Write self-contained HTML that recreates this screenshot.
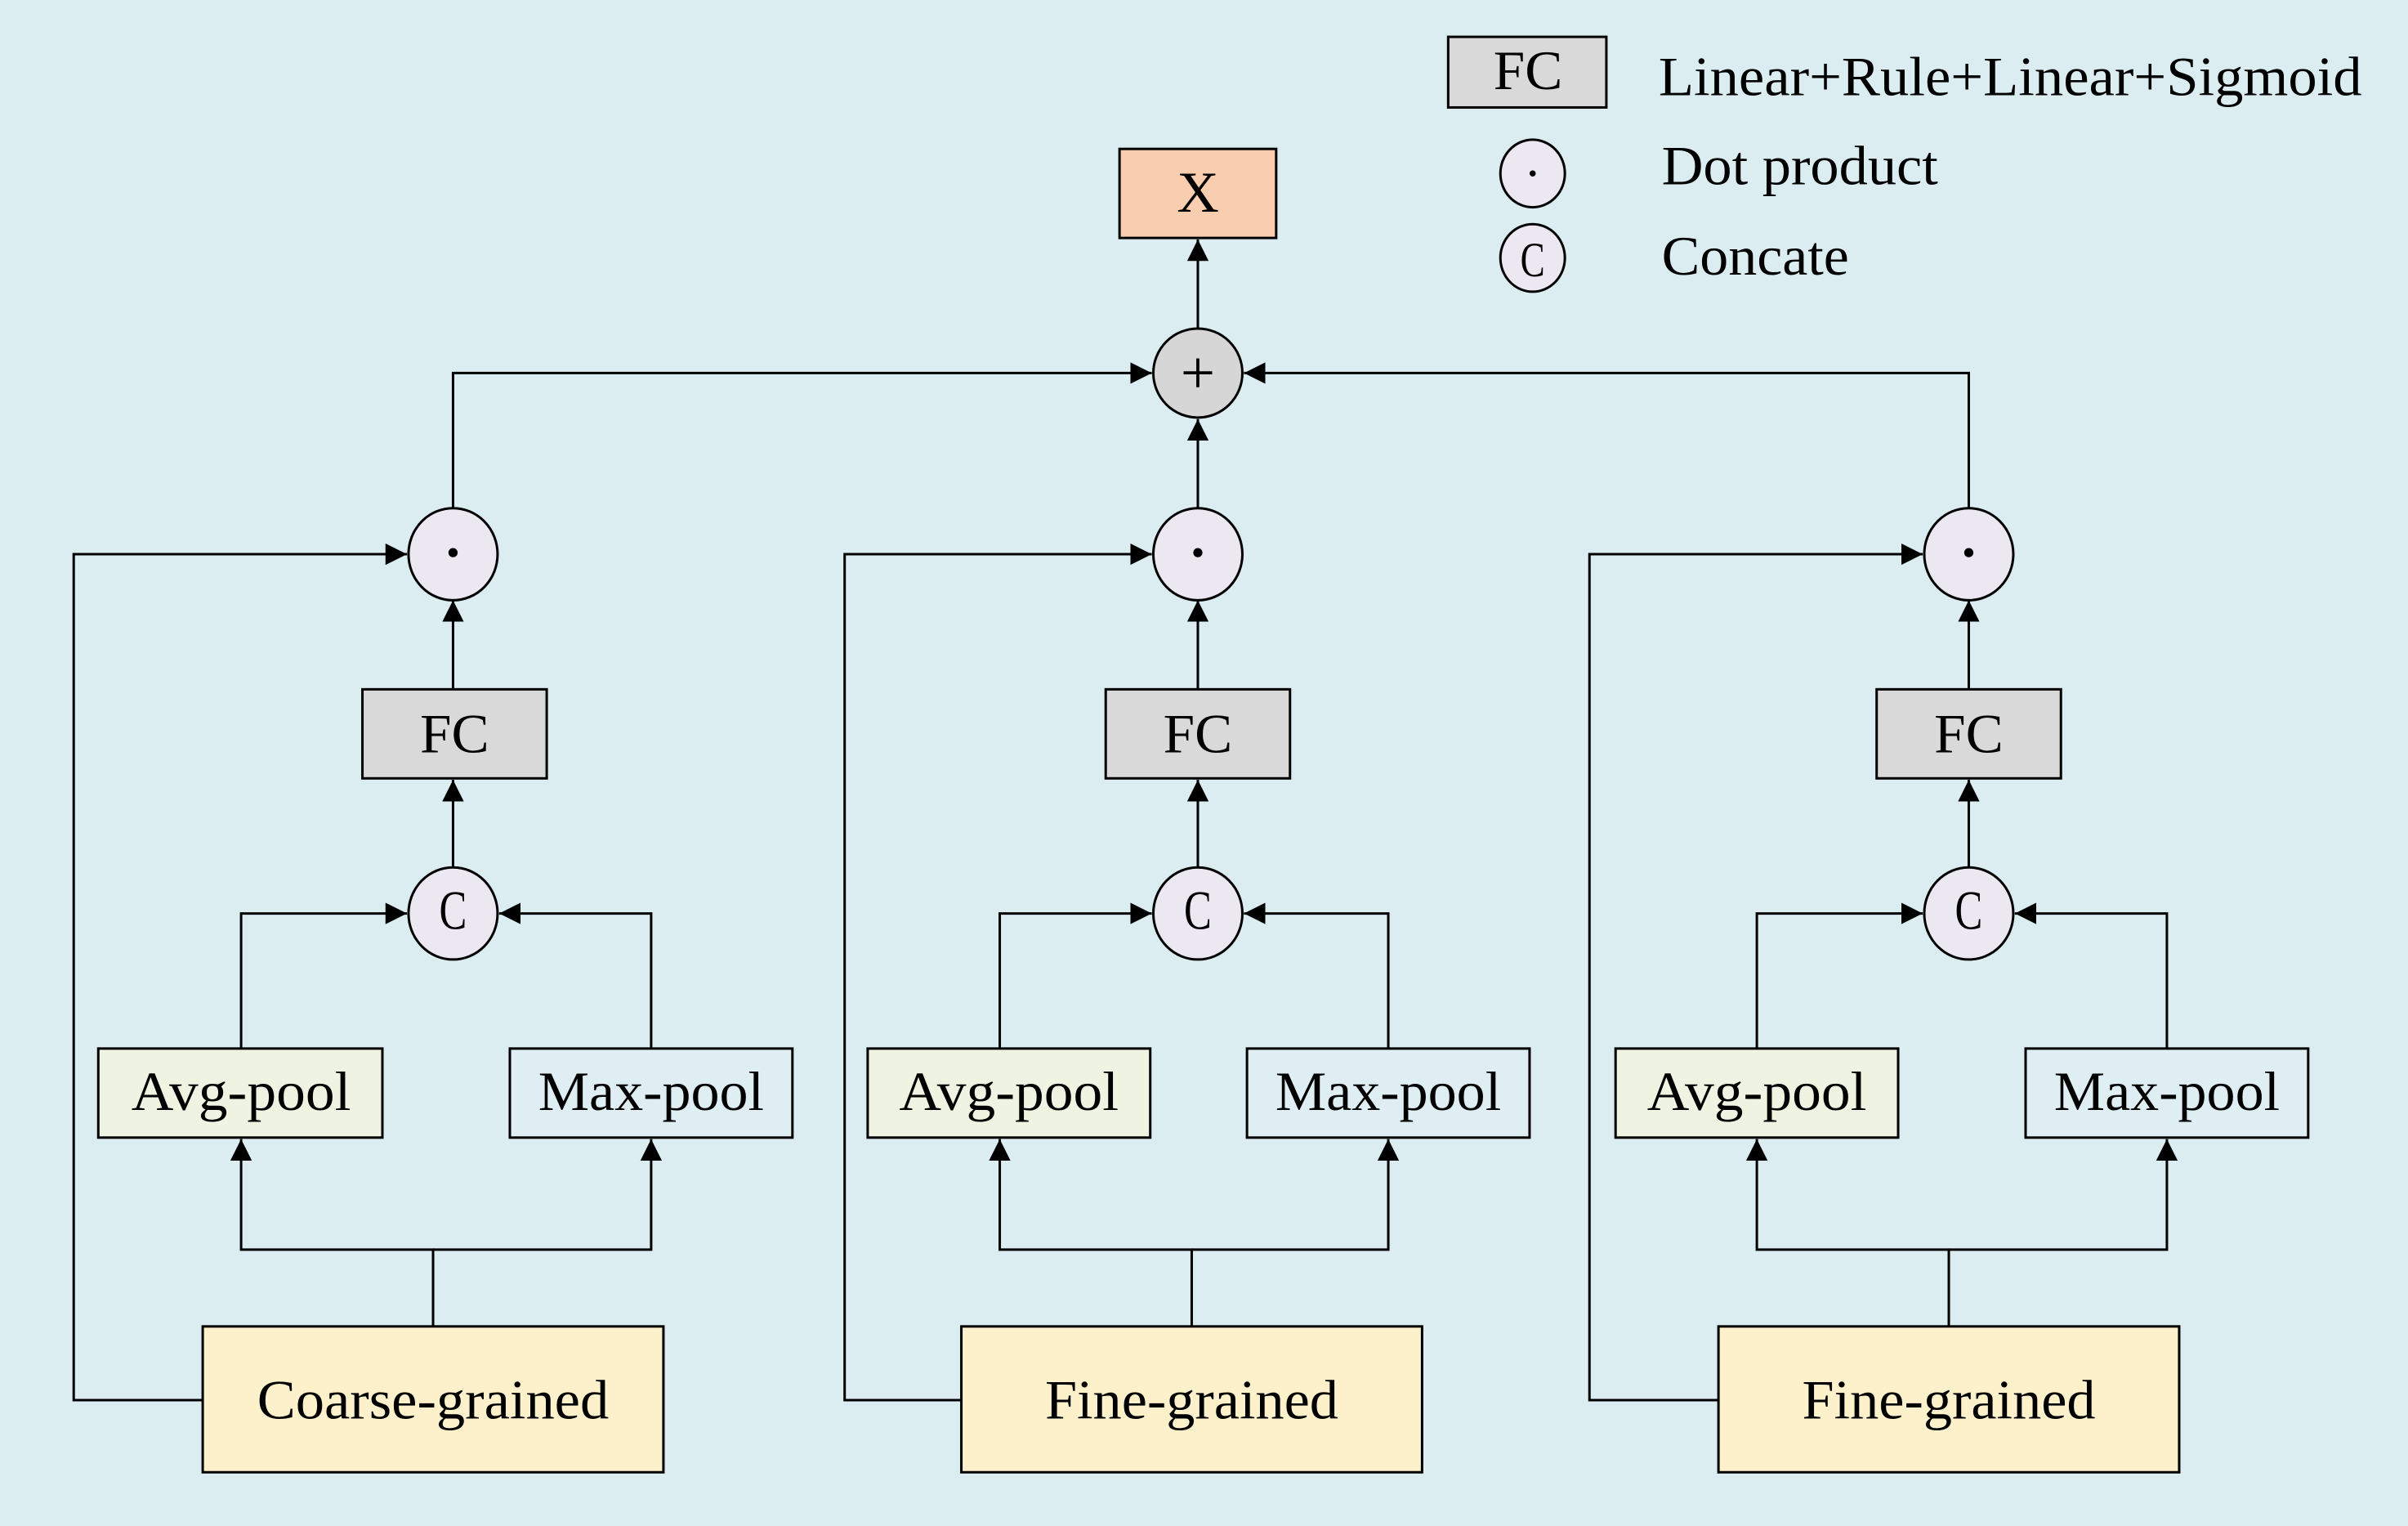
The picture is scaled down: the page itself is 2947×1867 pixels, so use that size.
<!DOCTYPE html>
<html><head><meta charset="utf-8"><style>html,body{margin:0;padding:0;background:#dcedf2}svg{display:block}</style></head><body>
<svg width="2947" height="1867" viewBox="0 0 1568 994" preserveAspectRatio="none" xmlns="http://www.w3.org/2000/svg" font-family="'Liberation Serif', serif">
<defs><marker id="a" viewBox="0 0 10 10" refX="10" refY="5" markerWidth="14" markerHeight="14" markerUnits="userSpaceOnUse" orient="auto"><path d="M0,0L10,5L0,10z" fill="#000"/></marker></defs>
<rect width="1568" height="994" fill="#dcedf2"/>
<g stroke="#000" stroke-width="1.6" fill="none">
<!-- X and + -->
<line x1="780" y1="214" x2="780" y2="156" marker-end="url(#a)"/>
<!-- column 1 -->
<polyline points="295,332 295,243 750,243" marker-end="url(#a)"/>
<polyline points="1282,332 1282,243 810,243" marker-end="url(#a)"/>
<line x1="780" y1="332" x2="780" y2="273" marker-end="url(#a)"/>
</g>
<g id="cols" stroke="#000" stroke-width="1.6" fill="none">
</g>
<g stroke="#000" stroke-width="1.6">
<rect x="729" y="97" width="102" height="58" fill="#f9cdb0"/>
<ellipse cx="780" cy="243" rx="29" ry="29" fill="#d6d6d6"/>
</g>
<text x="780" y="138" font-size="38" text-anchor="middle">X</text>
<text x="780" y="256" font-size="40" text-anchor="middle">+</text>

<!-- Column template repeated -->
<g stroke="#000" stroke-width="1.6" fill="none">
<!-- col1 cx=295, avg 157, max 424, base 282, fb 48 -->
<line x1="295" y1="449" x2="295" y2="391" marker-end="url(#a)"/>
<line x1="295" y1="566" x2="295" y2="508" marker-end="url(#a)"/>
<polyline points="157,683 157,595 265,595" marker-end="url(#a)"/>
<polyline points="424,683 424,595 325,595" marker-end="url(#a)"/>
<polyline points="282,864 282,814 157,814 157,742" marker-end="url(#a)"/>
<polyline points="282,814 424,814 424,742" marker-end="url(#a)"/>
<polyline points="132,912 48,912 48,361 265,361" marker-end="url(#a)"/>
<!-- col2 -->
<line x1="780" y1="449" x2="780" y2="391" marker-end="url(#a)"/>
<line x1="780" y1="566" x2="780" y2="508" marker-end="url(#a)"/>
<polyline points="651,683 651,595 750,595" marker-end="url(#a)"/>
<polyline points="904,683 904,595 810,595" marker-end="url(#a)"/>
<polyline points="776,864 776,814 651,814 651,742" marker-end="url(#a)"/>
<polyline points="776,814 904,814 904,742" marker-end="url(#a)"/>
<polyline points="626,912 550,912 550,361 750,361" marker-end="url(#a)"/>
<!-- col3 -->
<line x1="1282" y1="449" x2="1282" y2="391" marker-end="url(#a)"/>
<line x1="1282" y1="566" x2="1282" y2="508" marker-end="url(#a)"/>
<polyline points="1144,683 1144,595 1252,595" marker-end="url(#a)"/>
<polyline points="1411,683 1411,595 1312,595" marker-end="url(#a)"/>
<polyline points="1269,864 1269,814 1144,814 1144,742" marker-end="url(#a)"/>
<polyline points="1269,814 1411,814 1411,742" marker-end="url(#a)"/>
<polyline points="1119,912 1035,912 1035,361 1252,361" marker-end="url(#a)"/>
</g>
<g stroke="#000" stroke-width="1.6">
<ellipse cx="295" cy="361" rx="29" ry="30" fill="#ece8f2"/>
<ellipse cx="780" cy="361" rx="29" ry="30" fill="#ece8f2"/>
<ellipse cx="1282" cy="361" rx="29" ry="30" fill="#ece8f2"/>
<ellipse cx="295" cy="595" rx="29" ry="30" fill="#ece8f2"/>
<ellipse cx="780" cy="595" rx="29" ry="30" fill="#ece8f2"/>
<ellipse cx="1282" cy="595" rx="29" ry="30" fill="#ece8f2"/>
<rect x="236" y="449" width="120" height="58" fill="#d9d9d9"/>
<rect x="720" y="449" width="120" height="58" fill="#d9d9d9"/>
<rect x="1222" y="449" width="120" height="58" fill="#d9d9d9"/>
<rect x="64" y="683" width="185" height="58" fill="#eef3e2"/>
<rect x="565" y="683" width="184" height="58" fill="#eef3e2"/>
<rect x="1052" y="683" width="184" height="58" fill="#eef3e2"/>
<rect x="332" y="683" width="184" height="58" fill="#dfeef3"/>
<rect x="812" y="683" width="184" height="58" fill="#dfeef3"/>
<rect x="1319" y="683" width="184" height="58" fill="#dfeef3"/>
<rect x="132" y="864" width="300" height="95" fill="#fcf1cb"/>
<rect x="626" y="864" width="300" height="95" fill="#fcf1cb"/>
<rect x="1119" y="864" width="300" height="95" fill="#fcf1cb"/>
<rect x="943" y="24" width="103" height="46" fill="#d9d9d9"/>
<ellipse cx="998" cy="113" rx="21" ry="22" fill="#ece8f2"/>
<ellipse cx="998" cy="168" rx="21" ry="22" fill="#ece8f2"/>
</g>
<g fill="#000">
<circle cx="295" cy="360" r="3"/><circle cx="780" cy="360" r="3"/><circle cx="1282" cy="360" r="3"/><circle cx="998" cy="113" r="2"/>
</g>
<g font-size="36" text-anchor="middle">
<text x="295" y="605" textLength="18" lengthAdjust="spacingAndGlyphs">C</text>
<text x="780" y="605" textLength="18" lengthAdjust="spacingAndGlyphs">C</text>
<text x="1282" y="605" textLength="18" lengthAdjust="spacingAndGlyphs">C</text>
<text x="998" y="180" font-size="32" textLength="16" lengthAdjust="spacingAndGlyphs">C</text>
<text x="296" y="490" textLength="45" lengthAdjust="spacingAndGlyphs">FC</text>
<text x="780" y="490" textLength="45" lengthAdjust="spacingAndGlyphs">FC</text>
<text x="1282" y="490" textLength="45" lengthAdjust="spacingAndGlyphs">FC</text>
<text x="995" y="58" textLength="45" lengthAdjust="spacingAndGlyphs">FC</text>
<text x="157" y="723" textLength="143" lengthAdjust="spacingAndGlyphs">Avg-pool</text>
<text x="657" y="723" textLength="143" lengthAdjust="spacingAndGlyphs">Avg-pool</text>
<text x="1144" y="723" textLength="143" lengthAdjust="spacingAndGlyphs">Avg-pool</text>
<text x="424" y="723" textLength="147" lengthAdjust="spacingAndGlyphs">Max-pool</text>
<text x="904" y="723" textLength="147" lengthAdjust="spacingAndGlyphs">Max-pool</text>
<text x="1411" y="723" textLength="147" lengthAdjust="spacingAndGlyphs">Max-pool</text>
<text x="282" y="924" textLength="229" lengthAdjust="spacingAndGlyphs">Coarse-grained</text>
<text x="776" y="924" textLength="191" lengthAdjust="spacingAndGlyphs">Fine-grained</text>
<text x="1269" y="924" textLength="191" lengthAdjust="spacingAndGlyphs">Fine-grained</text>
</g>
<g font-size="36">
<text x="1080" y="62" textLength="458" lengthAdjust="spacingAndGlyphs">Linear+Rule+Linear+Sigmoid</text>
<text x="1082" y="120" textLength="180" lengthAdjust="spacingAndGlyphs">Dot product</text>
<text x="1082" y="179" textLength="122" lengthAdjust="spacingAndGlyphs">Concate</text>
</g>
</svg>
</body></html>
